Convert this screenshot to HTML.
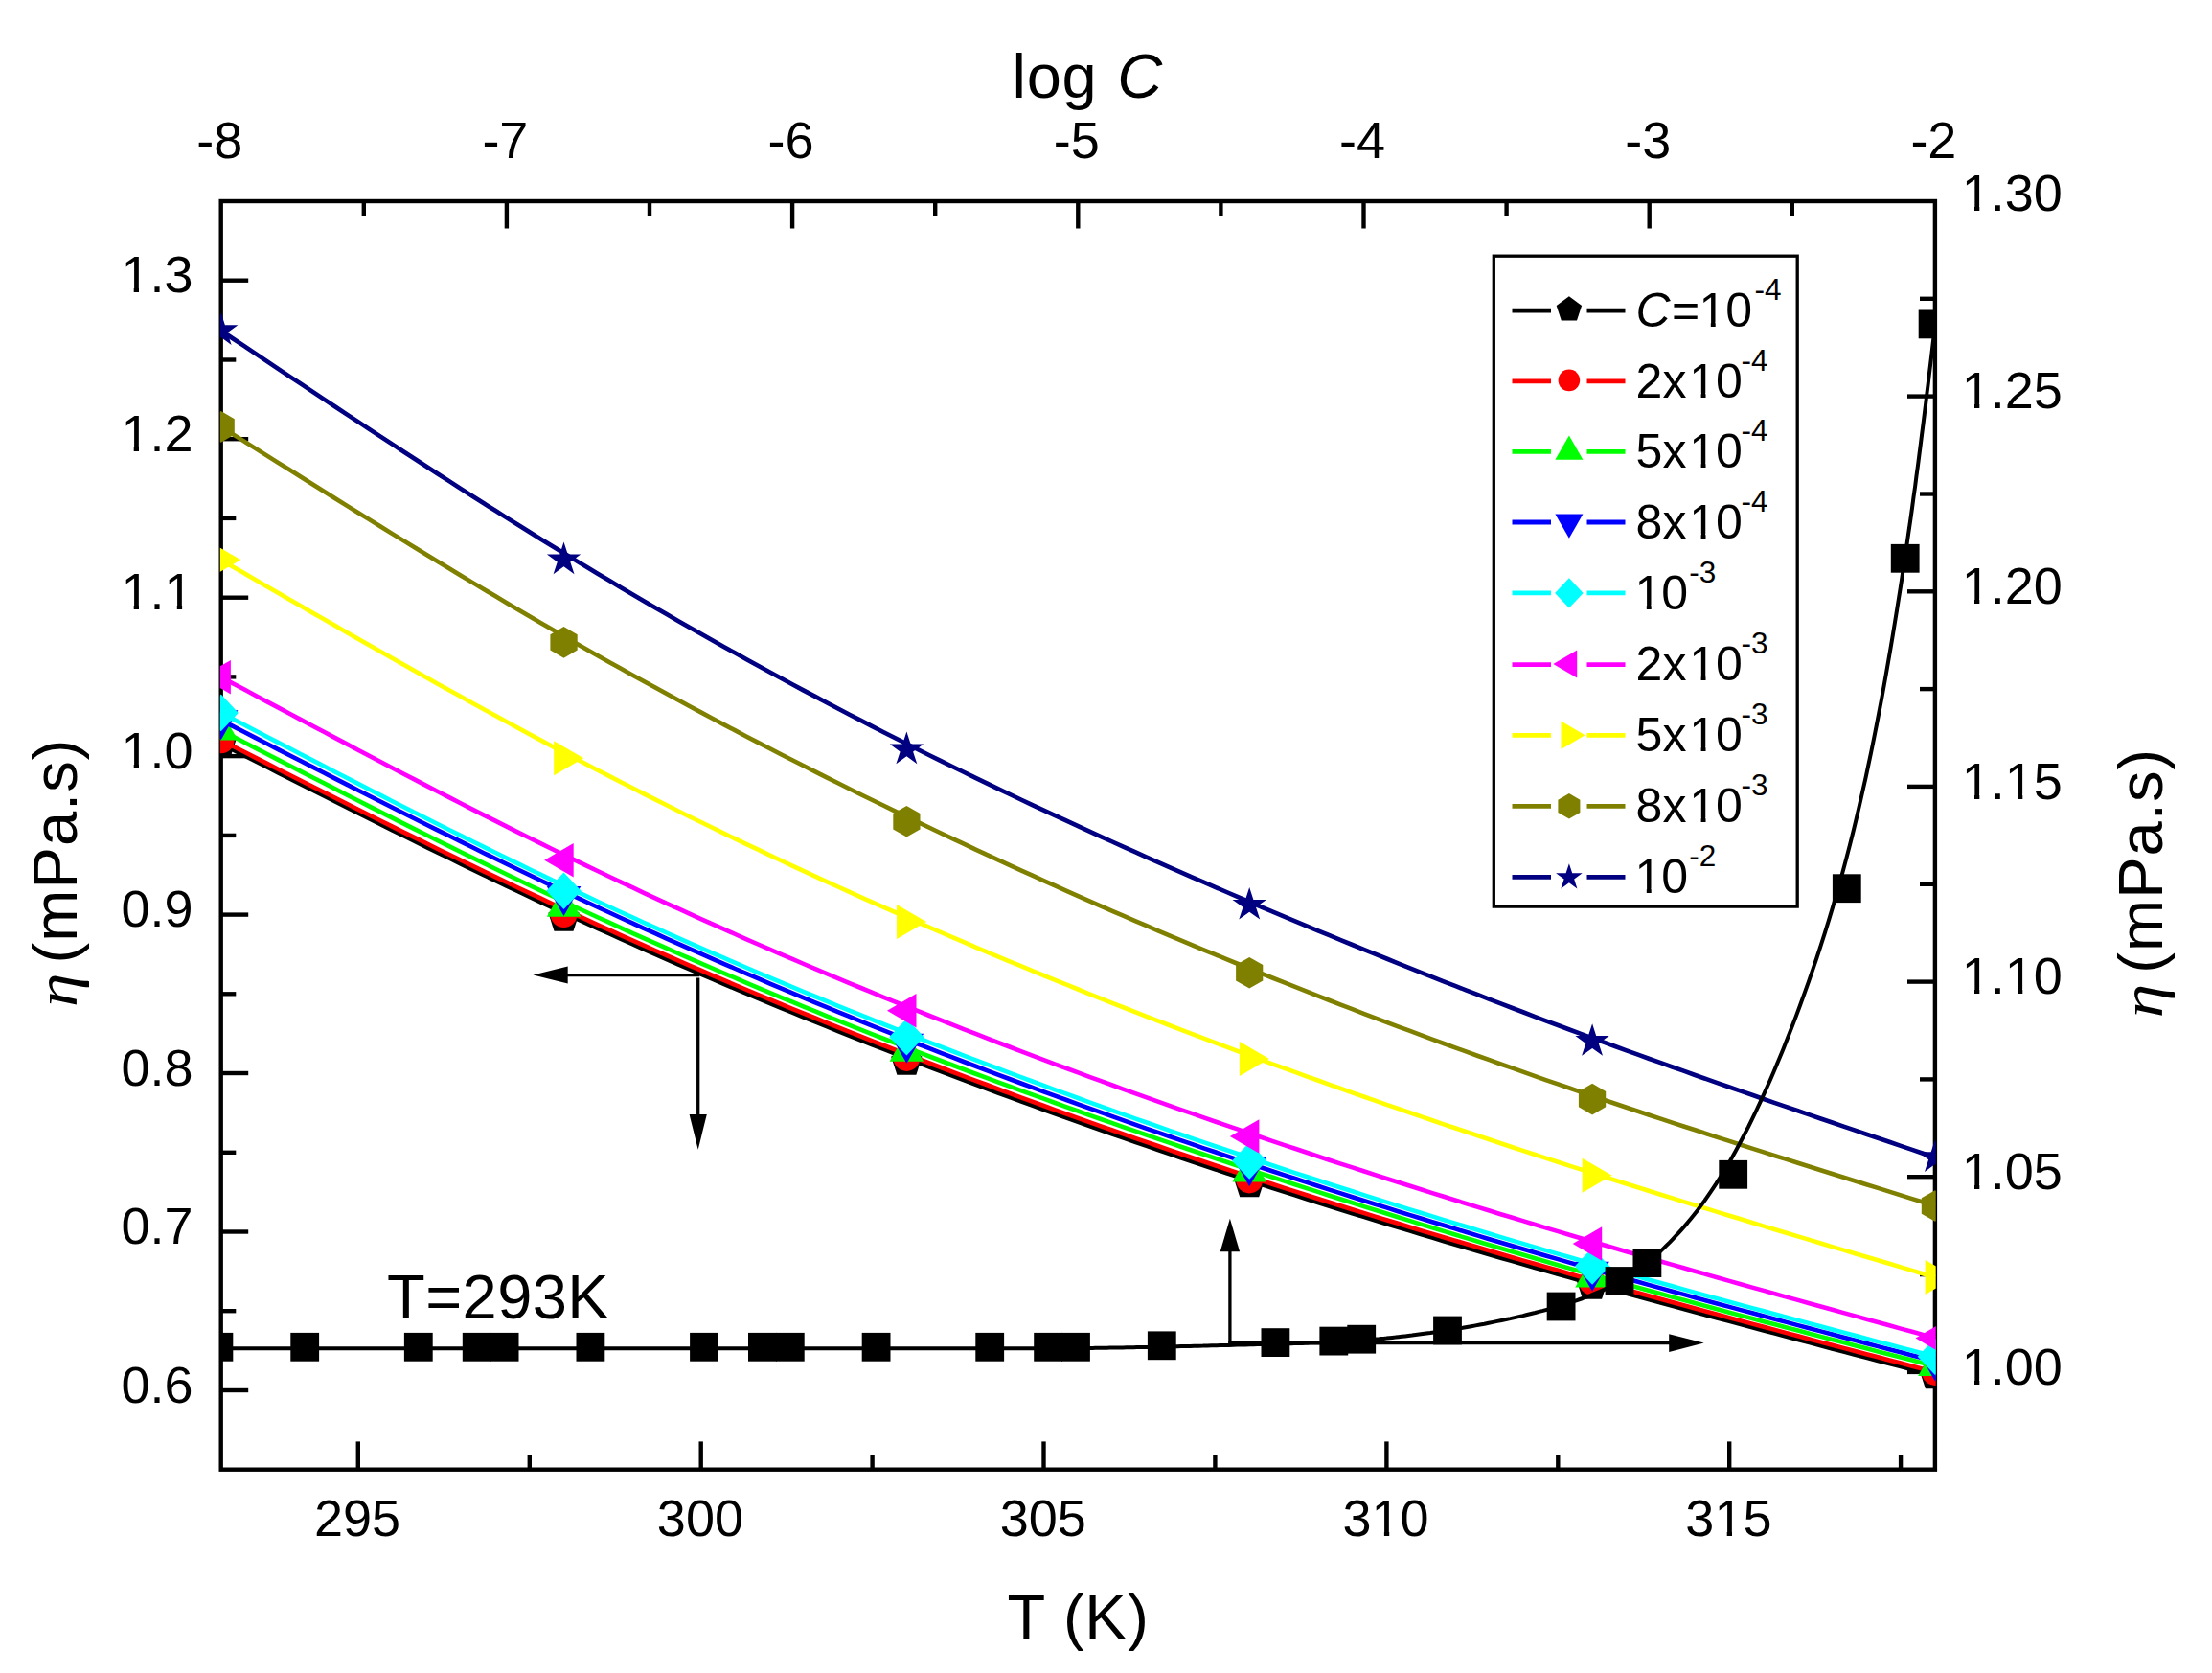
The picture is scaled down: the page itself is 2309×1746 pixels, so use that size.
<!DOCTYPE html>
<html lang="en"><head><meta charset="utf-8"><title>Viscosity vs temperature and concentration</title>
<style>html,body{margin:0;padding:0;background:#fff;}body{width:2309px;height:1746px;overflow:hidden;}svg{display:block;}text{font-family:"Liberation Sans", sans-serif;fill:#000;}</style></head><body>
<svg width="2309" height="1746" viewBox="0 0 2309 1746" role="img" aria-label="Viscosity versus temperature (bottom axis) and versus log concentration (top axis)">
<rect x="0" y="0" width="2309" height="1746" fill="#ffffff"/>
<defs><clipPath id="plotclip"><rect x="229.8" y="207.8" width="1790.9" height="1328.2"/></clipPath></defs>
<g stroke="#000" stroke-width="4.4" fill="none" stroke-linecap="butt">
<rect x="230.7" y="210" width="1789.2" height="1323.7"/>
<line x1="379.8" y1="210" x2="379.8" y2="225"/>
<line x1="528.9" y1="210" x2="528.9" y2="238.5"/>
<line x1="678" y1="210" x2="678" y2="225"/>
<line x1="827.1" y1="210" x2="827.1" y2="238.5"/>
<line x1="976.2" y1="210" x2="976.2" y2="225"/>
<line x1="1125.3" y1="210" x2="1125.3" y2="238.5"/>
<line x1="1274.4" y1="210" x2="1274.4" y2="225"/>
<line x1="1423.5" y1="210" x2="1423.5" y2="238.5"/>
<line x1="1572.6" y1="210" x2="1572.6" y2="225"/>
<line x1="1721.7" y1="210" x2="1721.7" y2="238.5"/>
<line x1="1870.8" y1="210" x2="1870.8" y2="225"/>
<line x1="373.8" y1="1533.7" x2="373.8" y2="1504.4"/>
<line x1="731.7" y1="1533.7" x2="731.7" y2="1504.4"/>
<line x1="1089.5" y1="1533.7" x2="1089.5" y2="1504.4"/>
<line x1="1447.4" y1="1533.7" x2="1447.4" y2="1504.4"/>
<line x1="1805.2" y1="1533.7" x2="1805.2" y2="1504.4"/>
<line x1="552.8" y1="1533.7" x2="552.8" y2="1518.7"/>
<line x1="910.6" y1="1533.7" x2="910.6" y2="1518.7"/>
<line x1="1268.4" y1="1533.7" x2="1268.4" y2="1518.7"/>
<line x1="1626.3" y1="1533.7" x2="1626.3" y2="1518.7"/>
<line x1="1984.1" y1="1533.7" x2="1984.1" y2="1518.7"/>
<line x1="230.7" y1="1451" x2="259.2" y2="1451"/>
<line x1="230.7" y1="1285.5" x2="259.2" y2="1285.5"/>
<line x1="230.7" y1="1120" x2="259.2" y2="1120"/>
<line x1="230.7" y1="954.6" x2="259.2" y2="954.6"/>
<line x1="230.7" y1="789.1" x2="259.2" y2="789.1"/>
<line x1="230.7" y1="623.7" x2="259.2" y2="623.7"/>
<line x1="230.7" y1="458.2" x2="259.2" y2="458.2"/>
<line x1="230.7" y1="292.7" x2="259.2" y2="292.7"/>
<line x1="230.7" y1="1368.2" x2="246.3" y2="1368.2"/>
<line x1="230.7" y1="1202.8" x2="246.3" y2="1202.8"/>
<line x1="230.7" y1="1037.3" x2="246.3" y2="1037.3"/>
<line x1="230.7" y1="871.9" x2="246.3" y2="871.9"/>
<line x1="230.7" y1="706.4" x2="246.3" y2="706.4"/>
<line x1="230.7" y1="540.9" x2="246.3" y2="540.9"/>
<line x1="230.7" y1="375.5" x2="246.3" y2="375.5"/>
<line x1="2019.9" y1="1431.9" x2="1991" y2="1431.9"/>
<line x1="2019.9" y1="1228.2" x2="1991" y2="1228.2"/>
<line x1="2019.9" y1="1024.6" x2="1991" y2="1024.6"/>
<line x1="2019.9" y1="820.9" x2="1991" y2="820.9"/>
<line x1="2019.9" y1="617.3" x2="1991" y2="617.3"/>
<line x1="2019.9" y1="413.6" x2="1991" y2="413.6"/>
<line x1="2019.9" y1="1330.1" x2="2004" y2="1330.1"/>
<line x1="2019.9" y1="1126.4" x2="2004" y2="1126.4"/>
<line x1="2019.9" y1="922.8" x2="2004" y2="922.8"/>
<line x1="2019.9" y1="719.1" x2="2004" y2="719.1"/>
<line x1="2019.9" y1="515.5" x2="2004" y2="515.5"/>
<line x1="2019.9" y1="311.8" x2="2004" y2="311.8"/>
</g>
<g clip-path="url(#plotclip)">
<polyline points="230.7,776.1 242.6,782.2 254.6,788.2 266.5,794.3 278.4,800.3 290.3,806.4 302.3,812.4 314.2,818.5 326.1,824.5 338.1,830.5 350,836.5 361.9,842.5 373.8,848.5 385.8,854.5 397.7,860.4 409.6,866.4 421.5,872.3 433.5,878.2 445.4,884.1 457.3,890 469.3,895.8 481.2,901.6 493.1,907.4 505,913.2 517,918.9 528.9,924.6 540.8,930.3 552.8,935.9 564.7,941.6 576.6,947.1 588.5,952.7 600.5,958.2 612.4,963.7 624.3,969.1 636.3,974.5 648.2,979.9 660.1,985.2 672,990.6 684,995.8 695.9,1001.1 707.8,1006.3 719.7,1011.5 731.7,1016.6 743.6,1021.7 755.5,1026.8 767.5,1031.9 779.4,1036.9 791.3,1041.9 803.2,1046.8 815.2,1051.8 827.1,1056.7 839,1061.6 851,1066.4 862.9,1071.2 874.8,1076 886.7,1080.8 898.7,1085.5 910.6,1090.3 922.5,1094.9 934.5,1099.6 946.4,1104.2 958.3,1108.9 970.2,1113.5 982.2,1118 994.1,1122.6 1006,1127.1 1017.9,1131.6 1029.9,1136 1041.8,1140.5 1053.7,1144.9 1065.7,1149.3 1077.6,1153.6 1089.5,1158 1101.4,1162.3 1113.4,1166.6 1125.3,1170.8 1137.2,1175.1 1149.2,1179.3 1161.1,1183.5 1173,1187.7 1184.9,1191.8 1196.9,1195.9 1208.8,1200 1220.7,1204.1 1232.7,1208.2 1244.6,1212.2 1256.5,1216.2 1268.4,1220.2 1280.4,1224.2 1292.3,1228.1 1304.2,1232 1316.1,1235.9 1328.1,1239.8 1340,1243.6 1351.9,1247.4 1363.9,1251.2 1375.8,1255 1387.7,1258.7 1399.6,1262.5 1411.6,1266.2 1423.5,1269.9 1435.4,1273.6 1447.4,1277.2 1459.3,1280.8 1471.2,1284.4 1483.1,1288 1495.1,1291.6 1507,1295.2 1518.9,1298.7 1530.9,1302.2 1542.8,1305.7 1554.7,1309.2 1566.6,1312.7 1578.6,1316.1 1590.5,1319.6 1602.4,1323 1614.3,1326.4 1626.3,1329.8 1638.2,1333.1 1650.1,1336.5 1662.1,1339.8 1674,1343.2 1685.9,1346.5 1697.8,1349.8 1709.8,1353.1 1721.7,1356.3 1733.6,1359.6 1745.6,1362.8 1757.5,1366.1 1769.4,1369.3 1781.3,1372.5 1793.3,1375.7 1805.2,1378.9 1817.1,1382.1 1829.1,1385.3 1841,1388.5 1852.9,1391.6 1864.8,1394.8 1876.8,1398 1888.7,1401.1 1900.6,1404.3 1912.5,1407.4 1924.5,1410.5 1936.4,1413.7 1948.3,1416.8 1960.3,1419.9 1972.2,1423 1984.1,1426.1 1996,1429.3 2008,1432.4 2019.9,1435.5" fill="none" stroke="#000000" stroke-width="4.6" stroke-linejoin="round"/>
<polygon points="230.7,759.1 246.9,770.8 240.7,789.9 220.7,789.9 214.5,770.8" fill="#000000"/>
<polygon points="588.5,941 604.7,952.7 598.5,971.8 578.5,971.8 572.4,952.7" fill="#000000"/>
<polygon points="946.4,1091 962.5,1102.7 956.4,1121.8 936.4,1121.8 930.2,1102.7" fill="#000000"/>
<polygon points="1304.2,1218.5 1320.4,1230.2 1314.2,1249.3 1294.2,1249.3 1288.1,1230.2" fill="#000000"/>
<polygon points="1662.1,1325 1678.2,1336.7 1672.1,1355.8 1652.1,1355.8 1645.9,1336.7" fill="#000000"/>
<polygon points="2019.9,1418.5 2036.1,1430.2 2029.9,1449.3 2009.9,1449.3 2003.7,1430.2" fill="#000000"/>
<polyline points="230.7,772.4 242.6,778.5 254.6,784.5 266.5,790.6 278.4,796.6 290.3,802.7 302.3,808.7 314.2,814.8 326.1,820.8 338.1,826.8 350,832.8 361.9,838.8 373.8,844.8 385.8,850.7 397.7,856.7 409.6,862.6 421.5,868.6 433.5,874.4 445.4,880.3 457.3,886.2 469.3,892 481.2,897.8 493.1,903.6 505,909.4 517,915.1 528.9,920.8 540.8,926.5 552.8,932.1 564.7,937.7 576.6,943.3 588.5,948.9 600.5,954.4 612.4,959.8 624.3,965.3 636.3,970.7 648.2,976.1 660.1,981.4 672,986.7 684,992 695.9,997.2 707.8,1002.4 719.7,1007.6 731.7,1012.7 743.6,1017.8 755.5,1022.9 767.5,1028 779.4,1033 791.3,1038 803.2,1042.9 815.2,1047.9 827.1,1052.8 839,1057.6 851,1062.5 862.9,1067.3 874.8,1072.1 886.7,1076.9 898.7,1081.6 910.6,1086.3 922.5,1091 934.5,1095.6 946.4,1100.3 958.3,1104.9 970.2,1109.5 982.2,1114 994.1,1118.6 1006,1123.1 1017.9,1127.6 1029.9,1132 1041.8,1136.5 1053.7,1140.9 1065.7,1145.3 1077.6,1149.6 1089.5,1154 1101.4,1158.3 1113.4,1162.6 1125.3,1166.8 1137.2,1171.1 1149.2,1175.3 1161.1,1179.5 1173,1183.7 1184.9,1187.8 1196.9,1191.9 1208.8,1196 1220.7,1200.1 1232.7,1204.2 1244.6,1208.2 1256.5,1212.2 1268.4,1216.2 1280.4,1220.2 1292.3,1224.1 1304.2,1228 1316.1,1231.9 1328.1,1235.8 1340,1239.6 1351.9,1243.4 1363.9,1247.2 1375.8,1251 1387.7,1254.7 1399.6,1258.5 1411.6,1262.2 1423.5,1265.9 1435.4,1269.6 1447.4,1273.2 1459.3,1276.8 1471.2,1280.5 1483.1,1284.1 1495.1,1287.6 1507,1291.2 1518.9,1294.7 1530.9,1298.2 1542.8,1301.8 1554.7,1305.2 1566.6,1308.7 1578.6,1312.2 1590.5,1315.6 1602.4,1319 1614.3,1322.4 1626.3,1325.8 1638.2,1329.2 1650.1,1332.6 1662.1,1335.9 1674,1339.3 1685.9,1342.6 1697.8,1345.9 1709.8,1349.2 1721.7,1352.5 1733.6,1355.7 1745.6,1359 1757.5,1362.2 1769.4,1365.5 1781.3,1368.7 1793.3,1371.9 1805.2,1375.2 1817.1,1378.4 1829.1,1381.6 1841,1384.7 1852.9,1387.9 1864.8,1391.1 1876.8,1394.3 1888.7,1397.4 1900.6,1400.6 1912.5,1403.7 1924.5,1406.9 1936.4,1410 1948.3,1413.2 1960.3,1416.3 1972.2,1419.5 1984.1,1422.6 1996,1425.7 2008,1428.9 2019.9,1432" fill="none" stroke="#ff0000" stroke-width="4.6" stroke-linejoin="round"/>
<circle cx="230.7" cy="772.4" r="13.9" fill="#ff0000"/>
<circle cx="588.5" cy="954.2" r="13.9" fill="#ff0000"/>
<circle cx="946.4" cy="1104" r="13.9" fill="#ff0000"/>
<circle cx="1304.2" cy="1231.5" r="13.9" fill="#ff0000"/>
<circle cx="1662.1" cy="1338" r="13.9" fill="#ff0000"/>
<circle cx="2019.9" cy="1432" r="13.9" fill="#ff0000"/>
<polyline points="230.7,762.2 242.6,768.3 254.6,774.5 266.5,780.6 278.4,786.7 290.3,792.9 302.3,799 314.2,805.1 326.1,811.2 338.1,817.3 350,823.4 361.9,829.5 373.8,835.5 385.8,841.6 397.7,847.6 409.6,853.6 421.5,859.6 433.5,865.6 445.4,871.5 457.3,877.5 469.3,883.4 481.2,889.2 493.1,895.1 505,900.9 517,906.7 528.9,912.5 540.8,918.2 552.8,924 564.7,929.6 576.6,935.3 588.5,940.9 600.5,946.5 612.4,952 624.3,957.5 636.3,962.9 648.2,968.4 660.1,973.8 672,979.1 684,984.4 695.9,989.7 707.8,995 719.7,1000.2 731.7,1005.4 743.6,1010.5 755.5,1015.6 767.5,1020.7 779.4,1025.8 791.3,1030.8 803.2,1035.8 815.2,1040.8 827.1,1045.7 839,1050.6 851,1055.4 862.9,1060.3 874.8,1065.1 886.7,1069.9 898.7,1074.6 910.6,1079.3 922.5,1084 934.5,1088.7 946.4,1093.3 958.3,1097.9 970.2,1102.5 982.2,1107 994.1,1111.5 1006,1116 1017.9,1120.5 1029.9,1124.9 1041.8,1129.3 1053.7,1133.7 1065.7,1138.1 1077.6,1142.4 1089.5,1146.7 1101.4,1151 1113.4,1155.3 1125.3,1159.5 1137.2,1163.8 1149.2,1168 1161.1,1172.1 1173,1176.3 1184.9,1180.4 1196.9,1184.5 1208.8,1188.6 1220.7,1192.7 1232.7,1196.8 1244.6,1200.8 1256.5,1204.8 1268.4,1208.8 1280.4,1212.8 1292.3,1216.7 1304.2,1220.7 1316.1,1224.6 1328.1,1228.5 1340,1232.4 1351.9,1236.2 1363.9,1240.1 1375.8,1243.9 1387.7,1247.7 1399.6,1251.5 1411.6,1255.3 1423.5,1259.1 1435.4,1262.8 1447.4,1266.5 1459.3,1270.3 1471.2,1273.9 1483.1,1277.6 1495.1,1281.3 1507,1284.9 1518.9,1288.5 1530.9,1292.1 1542.8,1295.7 1554.7,1299.2 1566.6,1302.8 1578.6,1306.3 1590.5,1309.8 1602.4,1313.3 1614.3,1316.7 1626.3,1320.2 1638.2,1323.6 1650.1,1327 1662.1,1330.4 1674,1333.7 1685.9,1337.1 1697.8,1340.4 1709.8,1343.7 1721.7,1347 1733.6,1350.3 1745.6,1353.6 1757.5,1356.8 1769.4,1360 1781.3,1363.3 1793.3,1366.5 1805.2,1369.7 1817.1,1372.9 1829.1,1376 1841,1379.2 1852.9,1382.3 1864.8,1385.5 1876.8,1388.6 1888.7,1391.7 1900.6,1394.9 1912.5,1398 1924.5,1401.1 1936.4,1404.2 1948.3,1407.3 1960.3,1410.4 1972.2,1413.5 1984.1,1416.5 1996,1419.6 2008,1422.7 2019.9,1425.8" fill="none" stroke="#00ff00" stroke-width="4.6" stroke-linejoin="round"/>
<polygon points="230.7,741.5 248.4,772.5 212.9,772.5" fill="#00ff00"/>
<polygon points="588.5,925.7 606.3,956.7 570.8,956.7" fill="#00ff00"/>
<polygon points="946.4,1076.8 964.1,1107.8 928.6,1107.8" fill="#00ff00"/>
<polygon points="1304.2,1202.6 1322,1233.6 1286.5,1233.6" fill="#00ff00"/>
<polygon points="1662.1,1312.6 1679.8,1343.6 1644.3,1343.6" fill="#00ff00"/>
<polygon points="2019.9,1405.1 2037.7,1436.1 2002.2,1436.1" fill="#00ff00"/>
<polyline points="230.7,751.5 242.6,757.6 254.6,763.8 266.5,769.9 278.4,776 290.3,782.1 302.3,788.2 314.2,794.3 326.1,800.4 338.1,806.5 350,812.6 361.9,818.6 373.8,824.7 385.8,830.7 397.7,836.8 409.6,842.8 421.5,848.8 433.5,854.7 445.4,860.7 457.3,866.6 469.3,872.5 481.2,878.4 493.1,884.3 505,890.2 517,896 528.9,901.8 540.8,907.5 552.8,913.3 564.7,919 576.6,924.6 588.5,930.3 600.5,935.9 612.4,941.5 624.3,947 636.3,952.5 648.2,958 660.1,963.4 672,968.8 684,974.2 695.9,979.6 707.8,984.9 719.7,990.2 731.7,995.4 743.6,1000.6 755.5,1005.8 767.5,1011 779.4,1016.1 791.3,1021.2 803.2,1026.3 815.2,1031.3 827.1,1036.3 839,1041.3 851,1046.3 862.9,1051.2 874.8,1056.1 886.7,1060.9 898.7,1065.8 910.6,1070.6 922.5,1075.3 934.5,1080.1 946.4,1084.8 958.3,1089.5 970.2,1094.2 982.2,1098.8 994.1,1103.4 1006,1108 1017.9,1112.5 1029.9,1117.1 1041.8,1121.6 1053.7,1126 1065.7,1130.5 1077.6,1134.9 1089.5,1139.3 1101.4,1143.7 1113.4,1148 1125.3,1152.3 1137.2,1156.6 1149.2,1160.9 1161.1,1165.1 1173,1169.4 1184.9,1173.6 1196.9,1177.8 1208.8,1181.9 1220.7,1186 1232.7,1190.1 1244.6,1194.2 1256.5,1198.3 1268.4,1202.3 1280.4,1206.4 1292.3,1210.4 1304.2,1214.3 1316.1,1218.3 1328.1,1222.2 1340,1226.1 1351.9,1230 1363.9,1233.9 1375.8,1237.8 1387.7,1241.6 1399.6,1245.4 1411.6,1249.2 1423.5,1253 1435.4,1256.7 1447.4,1260.4 1459.3,1264.2 1471.2,1267.9 1483.1,1271.5 1495.1,1275.2 1507,1278.8 1518.9,1282.4 1530.9,1286 1542.8,1289.6 1554.7,1293.2 1566.6,1296.7 1578.6,1300.2 1590.5,1303.7 1602.4,1307.2 1614.3,1310.7 1626.3,1314.1 1638.2,1317.6 1650.1,1321 1662.1,1324.4 1674,1327.7 1685.9,1331.1 1697.8,1334.5 1709.8,1337.8 1721.7,1341.1 1733.6,1344.4 1745.6,1347.7 1757.5,1350.9 1769.4,1354.2 1781.3,1357.5 1793.3,1360.7 1805.2,1363.9 1817.1,1367.1 1829.1,1370.3 1841,1373.5 1852.9,1376.7 1864.8,1379.9 1876.8,1383.1 1888.7,1386.2 1900.6,1389.4 1912.5,1392.5 1924.5,1395.7 1936.4,1398.8 1948.3,1401.9 1960.3,1405.1 1972.2,1408.2 1984.1,1411.3 1996,1414.5 2008,1417.6 2019.9,1420.7" fill="none" stroke="#0000ff" stroke-width="4.6" stroke-linejoin="round"/>
<polygon points="230.7,772.2 248.4,741.2 212.9,741.2" fill="#0000ff"/>
<polygon points="588.5,956 606.3,925 570.8,925" fill="#0000ff"/>
<polygon points="946.4,1109.7 964.1,1078.7 928.6,1078.7" fill="#0000ff"/>
<polygon points="1304.2,1238.2 1322,1207.2 1286.5,1207.2" fill="#0000ff"/>
<polygon points="1662.1,1347.7 1679.8,1316.7 1644.3,1316.7" fill="#0000ff"/>
<polygon points="2019.9,1441.4 2037.7,1410.4 2002.2,1410.4" fill="#0000ff"/>
<polyline points="230.7,743.9 242.6,750.1 254.6,756.3 266.5,762.5 278.4,768.7 290.3,774.9 302.3,781 314.2,787.2 326.1,793.4 338.1,799.5 350,805.7 361.9,811.8 373.8,817.9 385.8,824 397.7,830.1 409.6,836.2 421.5,842.2 433.5,848.2 445.4,854.2 457.3,860.2 469.3,866.2 481.2,872.1 493.1,878 505,883.9 517,889.8 528.9,895.6 540.8,901.4 552.8,907.2 564.7,912.9 576.6,918.6 588.5,924.2 600.5,929.9 612.4,935.4 624.3,941 636.3,946.5 648.2,952 660.1,957.4 672,962.8 684,968.2 695.9,973.5 707.8,978.8 719.7,984.1 731.7,989.3 743.6,994.6 755.5,999.7 767.5,1004.9 779.4,1010 791.3,1015.1 803.2,1020.1 815.2,1025.1 827.1,1030.1 839,1035.1 851,1040 862.9,1044.9 874.8,1049.8 886.7,1054.6 898.7,1059.4 910.6,1064.2 922.5,1069 934.5,1073.7 946.4,1078.4 958.3,1083.1 970.2,1087.8 982.2,1092.4 994.1,1097 1006,1101.6 1017.9,1106.1 1029.9,1110.7 1041.8,1115.2 1053.7,1119.6 1065.7,1124.1 1077.6,1128.5 1089.5,1132.9 1101.4,1137.3 1113.4,1141.7 1125.3,1146 1137.2,1150.3 1149.2,1154.6 1161.1,1158.9 1173,1163.1 1184.9,1167.3 1196.9,1171.5 1208.8,1175.7 1220.7,1179.9 1232.7,1184 1244.6,1188.1 1256.5,1192.2 1268.4,1196.2 1280.4,1200.3 1292.3,1204.3 1304.2,1208.3 1316.1,1212.3 1328.1,1216.2 1340,1220.2 1351.9,1224.1 1363.9,1228 1375.8,1231.8 1387.7,1235.7 1399.6,1239.5 1411.6,1243.3 1423.5,1247.1 1435.4,1250.9 1447.4,1254.6 1459.3,1258.4 1471.2,1262.1 1483.1,1265.8 1495.1,1269.4 1507,1273.1 1518.9,1276.7 1530.9,1280.3 1542.8,1283.9 1554.7,1287.5 1566.6,1291.1 1578.6,1294.6 1590.5,1298.1 1602.4,1301.6 1614.3,1305.1 1626.3,1308.6 1638.2,1312 1650.1,1315.5 1662.1,1318.9 1674,1322.3 1685.9,1325.7 1697.8,1329 1709.8,1332.4 1721.7,1335.7 1733.6,1339 1745.6,1342.3 1757.5,1345.6 1769.4,1348.9 1781.3,1352.2 1793.3,1355.4 1805.2,1358.7 1817.1,1361.9 1829.1,1365.1 1841,1368.3 1852.9,1371.5 1864.8,1374.7 1876.8,1377.9 1888.7,1381.1 1900.6,1384.3 1912.5,1387.4 1924.5,1390.6 1936.4,1393.8 1948.3,1396.9 1960.3,1400.1 1972.2,1403.2 1984.1,1406.4 1996,1409.5 2008,1412.7 2019.9,1415.8" fill="none" stroke="#00ffff" stroke-width="4.6" stroke-linejoin="round"/>
<polygon points="230.7,724.6 248.9,743.9 230.7,763.2 212.5,743.9" fill="#00ffff"/>
<polygon points="588.5,910.5 606.7,929.8 588.5,949.1 570.3,929.8" fill="#00ffff"/>
<polygon points="946.4,1063 964.6,1082.3 946.4,1101.6 928.2,1082.3" fill="#00ffff"/>
<polygon points="1304.2,1192.2 1322.4,1211.5 1304.2,1230.8 1286,1211.5" fill="#00ffff"/>
<polygon points="1662.1,1302.2 1680.3,1321.5 1662.1,1340.8 1643.9,1321.5" fill="#00ffff"/>
<polygon points="2019.9,1396.5 2038.1,1415.8 2019.9,1435.1 2001.7,1415.8" fill="#00ffff"/>
<polyline points="230.7,706.6 242.6,713 254.6,719.3 266.5,725.7 278.4,732.1 290.3,738.4 302.3,744.8 314.2,751.1 326.1,757.5 338.1,763.8 350,770.1 361.9,776.4 373.8,782.7 385.8,789 397.7,795.2 409.6,801.5 421.5,807.7 433.5,813.9 445.4,820.1 457.3,826.2 469.3,832.4 481.2,838.5 493.1,844.6 505,850.6 517,856.6 528.9,862.6 540.8,868.6 552.8,874.5 564.7,880.4 576.6,886.3 588.5,892.1 600.5,897.9 612.4,903.6 624.3,909.3 636.3,915 648.2,920.6 660.1,926.2 672,931.8 684,937.3 695.9,942.8 707.8,948.2 719.7,953.7 731.7,959.1 743.6,964.4 755.5,969.7 767.5,975 779.4,980.3 791.3,985.5 803.2,990.7 815.2,995.8 827.1,1000.9 839,1006 851,1011.1 862.9,1016.1 874.8,1021.1 886.7,1026.1 898.7,1031 910.6,1035.9 922.5,1040.8 934.5,1045.6 946.4,1050.4 958.3,1055.2 970.2,1060 982.2,1064.7 994.1,1069.4 1006,1074.1 1017.9,1078.7 1029.9,1083.4 1041.8,1088 1053.7,1092.5 1065.7,1097.1 1077.6,1101.6 1089.5,1106.1 1101.4,1110.6 1113.4,1115 1125.3,1119.4 1137.2,1123.8 1149.2,1128.2 1161.1,1132.5 1173,1136.8 1184.9,1141.1 1196.9,1145.4 1208.8,1149.6 1220.7,1153.9 1232.7,1158.1 1244.6,1162.2 1256.5,1166.4 1268.4,1170.5 1280.4,1174.6 1292.3,1178.7 1304.2,1182.8 1316.1,1186.8 1328.1,1190.9 1340,1194.9 1351.9,1198.8 1363.9,1202.8 1375.8,1206.7 1387.7,1210.7 1399.6,1214.6 1411.6,1218.4 1423.5,1222.3 1435.4,1226.1 1447.4,1230 1459.3,1233.8 1471.2,1237.5 1483.1,1241.3 1495.1,1245.1 1507,1248.8 1518.9,1252.5 1530.9,1256.2 1542.8,1259.9 1554.7,1263.5 1566.6,1267.2 1578.6,1270.8 1590.5,1274.4 1602.4,1278 1614.3,1281.6 1626.3,1285.1 1638.2,1288.7 1650.1,1292.2 1662.1,1295.7 1674,1299.2 1685.9,1302.7 1697.8,1306.2 1709.8,1309.6 1721.7,1313.1 1733.6,1316.5 1745.6,1319.9 1757.5,1323.3 1769.4,1326.7 1781.3,1330.1 1793.3,1333.5 1805.2,1336.9 1817.1,1340.2 1829.1,1343.6 1841,1346.9 1852.9,1350.2 1864.8,1353.6 1876.8,1356.9 1888.7,1360.2 1900.6,1363.5 1912.5,1366.8 1924.5,1370.1 1936.4,1373.4 1948.3,1376.7 1960.3,1380 1972.2,1383.3 1984.1,1386.6 1996,1389.8 2008,1393.1 2019.9,1396.4" fill="none" stroke="#ff00ff" stroke-width="4.6" stroke-linejoin="round"/>
<polygon points="210.4,706.6 240.9,688.9 240.9,724.4" fill="#ff00ff"/>
<polygon points="568.2,897.8 598.7,880 598.7,915.5" fill="#ff00ff"/>
<polygon points="926,1054.7 956.5,1037 956.5,1072.5" fill="#ff00ff"/>
<polygon points="1283.9,1186 1314.4,1168.2 1314.4,1203.8" fill="#ff00ff"/>
<polygon points="1641.7,1298 1672.2,1280.2 1672.2,1315.8" fill="#ff00ff"/>
<polygon points="1999.6,1396.4 2030.1,1378.7 2030.1,1414.2" fill="#ff00ff"/>
<polyline points="230.7,584.3 242.6,591.2 254.6,598.1 266.5,605 278.4,611.9 290.3,618.8 302.3,625.7 314.2,632.5 326.1,639.4 338.1,646.2 350,653.1 361.9,659.9 373.8,666.7 385.8,673.5 397.7,680.3 409.6,687 421.5,693.8 433.5,700.5 445.4,707.2 457.3,713.9 469.3,720.5 481.2,727.1 493.1,733.7 505,740.3 517,746.8 528.9,753.3 540.8,759.8 552.8,766.2 564.7,772.6 576.6,779 588.5,785.3 600.5,791.5 612.4,797.8 624.3,804 636.3,810.1 648.2,816.3 660.1,822.3 672,828.4 684,834.4 695.9,840.3 707.8,846.3 719.7,852.2 731.7,858 743.6,863.8 755.5,869.6 767.5,875.4 779.4,881.1 791.3,886.7 803.2,892.4 815.2,898 827.1,903.6 839,909.1 851,914.6 862.9,920.1 874.8,925.5 886.7,930.9 898.7,936.3 910.6,941.6 922.5,946.9 934.5,952.2 946.4,957.4 958.3,962.7 970.2,967.8 982.2,973 994.1,978.1 1006,983.2 1017.9,988.3 1029.9,993.3 1041.8,998.3 1053.7,1003.3 1065.7,1008.2 1077.6,1013.1 1089.5,1018 1101.4,1022.9 1113.4,1027.7 1125.3,1032.5 1137.2,1037.3 1149.2,1042.1 1161.1,1046.8 1173,1051.5 1184.9,1056.2 1196.9,1060.8 1208.8,1065.4 1220.7,1070 1232.7,1074.6 1244.6,1079.1 1256.5,1083.6 1268.4,1088.1 1280.4,1092.6 1292.3,1097.1 1304.2,1101.5 1316.1,1105.9 1328.1,1110.3 1340,1114.6 1351.9,1118.9 1363.9,1123.3 1375.8,1127.5 1387.7,1131.8 1399.6,1136 1411.6,1140.3 1423.5,1144.5 1435.4,1148.6 1447.4,1152.8 1459.3,1156.9 1471.2,1161 1483.1,1165.1 1495.1,1169.2 1507,1173.3 1518.9,1177.3 1530.9,1181.3 1542.8,1185.3 1554.7,1189.3 1566.6,1193.2 1578.6,1197.2 1590.5,1201.1 1602.4,1205 1614.3,1208.9 1626.3,1212.7 1638.2,1216.6 1650.1,1220.4 1662.1,1224.2 1674,1228 1685.9,1231.8 1697.8,1235.5 1709.8,1239.3 1721.7,1243 1733.6,1246.7 1745.6,1250.4 1757.5,1254.1 1769.4,1257.8 1781.3,1261.4 1793.3,1265.1 1805.2,1268.7 1817.1,1272.3 1829.1,1276 1841,1279.6 1852.9,1283.2 1864.8,1286.8 1876.8,1290.4 1888.7,1293.9 1900.6,1297.5 1912.5,1301.1 1924.5,1304.6 1936.4,1308.2 1948.3,1311.7 1960.3,1315.3 1972.2,1318.8 1984.1,1322.4 1996,1325.9 2008,1329.5 2019.9,1333" fill="none" stroke="#ffff00" stroke-width="4.6" stroke-linejoin="round"/>
<polygon points="251.4,584.3 220.4,566.3 220.4,602.3" fill="#ffff00"/>
<polygon points="609.2,791.3 578.2,773.3 578.2,809.3" fill="#ffff00"/>
<polygon points="967,962.1 936,944.1 936,980.1" fill="#ffff00"/>
<polygon points="1324.9,1105 1293.9,1087 1293.9,1123" fill="#ffff00"/>
<polygon points="1682.7,1226.8 1651.7,1208.8 1651.7,1244.8" fill="#ffff00"/>
<polygon points="2040.6,1333 2009.6,1315 2009.6,1351" fill="#ffff00"/>
<polyline points="230.7,445.4 242.6,452.9 254.6,460.4 266.5,467.9 278.4,475.4 290.3,482.9 302.3,490.3 314.2,497.8 326.1,505.3 338.1,512.7 350,520.2 361.9,527.6 373.8,535 385.8,542.4 397.7,549.8 409.6,557.1 421.5,564.4 433.5,571.7 445.4,579 457.3,586.3 469.3,593.5 481.2,600.7 493.1,607.9 505,615 517,622.1 528.9,629.2 540.8,636.3 552.8,643.3 564.7,650.2 576.6,657.1 588.5,664 600.5,670.9 612.4,677.7 624.3,684.4 636.3,691.2 648.2,697.8 660.1,704.5 672,711.1 684,717.6 695.9,724.1 707.8,730.6 719.7,737 731.7,743.4 743.6,749.8 755.5,756.1 767.5,762.4 779.4,768.7 791.3,774.9 803.2,781 815.2,787.2 827.1,793.3 839,799.3 851,805.4 862.9,811.4 874.8,817.3 886.7,823.3 898.7,829.2 910.6,835 922.5,840.8 934.5,846.6 946.4,852.4 958.3,858.1 970.2,863.8 982.2,869.5 994.1,875.1 1006,880.7 1017.9,886.3 1029.9,891.8 1041.8,897.4 1053.7,902.8 1065.7,908.3 1077.6,913.7 1089.5,919.1 1101.4,924.4 1113.4,929.8 1125.3,935.1 1137.2,940.3 1149.2,945.6 1161.1,950.8 1173,955.9 1184.9,961.1 1196.9,966.2 1208.8,971.3 1220.7,976.3 1232.7,981.3 1244.6,986.3 1256.5,991.3 1268.4,996.2 1280.4,1001.1 1292.3,1006 1304.2,1010.8 1316.1,1015.7 1328.1,1020.5 1340,1025.2 1351.9,1029.9 1363.9,1034.7 1375.8,1039.3 1387.7,1044 1399.6,1048.6 1411.6,1053.2 1423.5,1057.8 1435.4,1062.3 1447.4,1066.8 1459.3,1071.3 1471.2,1075.7 1483.1,1080.2 1495.1,1084.6 1507,1089 1518.9,1093.3 1530.9,1097.7 1542.8,1102 1554.7,1106.2 1566.6,1110.5 1578.6,1114.7 1590.5,1118.9 1602.4,1123.1 1614.3,1127.3 1626.3,1131.4 1638.2,1135.5 1650.1,1139.6 1662.1,1143.7 1674,1147.7 1685.9,1151.7 1697.8,1155.7 1709.8,1159.7 1721.7,1163.7 1733.6,1167.6 1745.6,1171.6 1757.5,1175.5 1769.4,1179.3 1781.3,1183.2 1793.3,1187.1 1805.2,1190.9 1817.1,1194.8 1829.1,1198.6 1841,1202.4 1852.9,1206.2 1864.8,1209.9 1876.8,1213.7 1888.7,1217.5 1900.6,1221.2 1912.5,1225 1924.5,1228.7 1936.4,1232.5 1948.3,1236.2 1960.3,1239.9 1972.2,1243.6 1984.1,1247.4 1996,1251.1 2008,1254.8 2019.9,1258.5" fill="none" stroke="#808000" stroke-width="4.6" stroke-linejoin="round"/>
<polygon points="230.7,429.1 244.8,437.2 244.8,453.5 230.7,461.7 216.6,453.6 216.6,437.2" fill="#808000"/>
<polygon points="588.5,654.1 602.7,662.2 602.7,678.5 588.5,686.7 574.4,678.5 574.4,662.2" fill="#808000"/>
<polygon points="946.4,840.9 960.5,849.1 960.5,865.4 946.4,873.5 932.3,865.4 932.3,849.1" fill="#808000"/>
<polygon points="1304.2,998.9 1318.3,1007.1 1318.3,1023.4 1304.2,1031.5 1290.1,1023.4 1290.1,1007.1" fill="#808000"/>
<polygon points="1662.1,1130.8 1676.2,1138.9 1676.2,1155.2 1662.1,1163.4 1647.9,1155.2 1647.9,1138.9" fill="#808000"/>
<polygon points="2019.9,1242.2 2034,1250.3 2034,1266.7 2019.9,1274.8 2005.8,1266.7 2005.8,1250.3" fill="#808000"/>
<polyline points="230.7,345 242.6,353 254.6,360.9 266.5,368.9 278.4,376.9 290.3,384.8 302.3,392.8 314.2,400.7 326.1,408.7 338.1,416.6 350,424.5 361.9,432.4 373.8,440.2 385.8,448.1 397.7,455.9 409.6,463.7 421.5,471.5 433.5,479.3 445.4,487 457.3,494.7 469.3,502.4 481.2,510.1 493.1,517.7 505,525.3 517,532.8 528.9,540.4 540.8,547.8 552.8,555.3 564.7,562.7 576.6,570 588.5,577.3 600.5,584.6 612.4,591.8 624.3,599 636.3,606.1 648.2,613.2 660.1,620.2 672,627.2 684,634.2 695.9,641.1 707.8,647.9 719.7,654.8 731.7,661.5 743.6,668.3 755.5,675 767.5,681.6 779.4,688.2 791.3,694.8 803.2,701.3 815.2,707.8 827.1,714.2 839,720.6 851,726.9 862.9,733.2 874.8,739.5 886.7,745.7 898.7,751.9 910.6,758.1 922.5,764.2 934.5,770.2 946.4,776.3 958.3,782.3 970.2,788.2 982.2,794.1 994.1,800 1006,805.8 1017.9,811.6 1029.9,817.4 1041.8,823.1 1053.7,828.8 1065.7,834.5 1077.6,840.1 1089.5,845.7 1101.4,851.2 1113.4,856.7 1125.3,862.2 1137.2,867.7 1149.2,873.1 1161.1,878.5 1173,883.9 1184.9,889.2 1196.9,894.6 1208.8,899.9 1220.7,905.1 1232.7,910.3 1244.6,915.6 1256.5,920.7 1268.4,925.9 1280.4,931 1292.3,936.1 1304.2,941.2 1316.1,946.3 1328.1,951.3 1340,956.4 1351.9,961.4 1363.9,966.3 1375.8,971.3 1387.7,976.2 1399.6,981.1 1411.6,986 1423.5,990.9 1435.4,995.7 1447.4,1000.5 1459.3,1005.3 1471.2,1010.1 1483.1,1014.8 1495.1,1019.6 1507,1024.3 1518.9,1028.9 1530.9,1033.6 1542.8,1038.2 1554.7,1042.8 1566.6,1047.4 1578.6,1052 1590.5,1056.5 1602.4,1061.1 1614.3,1065.6 1626.3,1070 1638.2,1074.5 1650.1,1078.9 1662.1,1083.3 1674,1087.7 1685.9,1092 1697.8,1096.4 1709.8,1100.7 1721.7,1105 1733.6,1109.2 1745.6,1113.5 1757.5,1117.7 1769.4,1122 1781.3,1126.2 1793.3,1130.4 1805.2,1134.5 1817.1,1138.7 1829.1,1142.8 1841,1147 1852.9,1151.1 1864.8,1155.2 1876.8,1159.3 1888.7,1163.4 1900.6,1167.5 1912.5,1171.5 1924.5,1175.6 1936.4,1179.7 1948.3,1183.7 1960.3,1187.8 1972.2,1191.8 1984.1,1195.9 1996,1199.9 2008,1204 2019.9,1208" fill="none" stroke="#000080" stroke-width="4.6" stroke-linejoin="round"/>
<polygon points="230.7,326.4 234.9,339.3 248.4,339.3 237.5,347.2 241.6,360 230.7,352.1 219.8,360 223.9,347.2 213,339.3 226.5,339.3" fill="#000080"/>
<polygon points="588.5,565.6 592.7,578.5 606.2,578.5 595.3,586.4 599.5,599.2 588.5,591.3 577.6,599.2 581.8,586.4 570.9,578.5 584.4,578.5" fill="#000080"/>
<polygon points="946.4,763.6 950.6,776.5 964.1,776.5 953.1,784.4 957.3,797.2 946.4,789.3 935.4,797.2 939.6,784.4 928.7,776.5 942.2,776.5" fill="#000080"/>
<polygon points="1304.2,926 1308.4,938.9 1321.9,938.9 1311,946.8 1315.2,959.6 1304.2,951.7 1293.3,959.6 1297.5,946.8 1286.5,938.9 1300,938.9" fill="#000080"/>
<polygon points="1662.1,1068.2 1666.2,1081.1 1679.7,1081.1 1668.8,1089 1673,1101.8 1662.1,1093.9 1651.1,1101.8 1655.3,1089 1644.4,1081.1 1657.9,1081.1" fill="#000080"/>
<polygon points="2019.9,1189.4 2024.1,1202.3 2037.6,1202.3 2026.7,1210.2 2030.8,1223 2019.9,1215.1 2009,1223 2013.1,1210.2 2002.2,1202.3 2015.7,1202.3" fill="#000080"/>
<polyline points="230.7,1407.2 234.4,1407.2 238.2,1407.2 241.9,1407.2 245.7,1407.2 249.4,1407.2 253.2,1407.2 257,1407.2 260.8,1407.2 264.6,1407.2 268.5,1407.2 272.3,1407.2 276.2,1407.2 280.1,1407.2 284,1407.2 288,1407.2 292,1407.2 296,1407.2 300.1,1407.2 304.2,1407.2 308.3,1407.2 312.5,1407.2 316.7,1407.2 321,1407.2 325.3,1407.2 329.6,1407.2 334.1,1407.2 338.5,1407.2 343,1407.2 347.5,1407.2 352,1407.2 356.6,1407.2 361.1,1407.2 365.6,1407.2 370.2,1407.2 374.7,1407.2 379.2,1407.2 383.7,1407.2 388.1,1407.2 392.5,1407.2 396.9,1407.2 401.2,1407.2 405.5,1407.2 409.7,1407.2 413.8,1407.2 417.9,1407.2 421.8,1407.2 425.7,1407.2 429.5,1407.2 433.2,1407.2 436.8,1407.2 440.3,1407.2 443.7,1407.2 447,1407.2 450.2,1407.2 453.3,1407.2 456.4,1407.2 459.3,1407.2 462.2,1407.2 465,1407.2 467.7,1407.2 470.3,1407.2 472.9,1407.2 475.4,1407.2 477.8,1407.2 480.1,1407.2 482.4,1407.2 484.6,1407.2 486.7,1407.2 488.8,1407.2 490.8,1407.2 492.8,1407.2 494.7,1407.2 496.5,1407.2 498.3,1407.2 500.1,1407.2 501.8,1407.2 503.5,1407.2 505.1,1407.2 506.8,1407.2 508.4,1407.2 510.1,1407.2 511.7,1407.2 513.4,1407.2 515.1,1407.2 516.8,1407.2 518.5,1407.2 520.3,1407.2 522.1,1407.2 523.9,1407.2 525.9,1407.2 527.9,1407.2 529.9,1407.2 532.1,1407.2 534.3,1407.2 536.6,1407.2 539,1407.2 541.6,1407.2 544.2,1407.2 546.9,1407.2 549.8,1407.2 552.7,1407.2 555.7,1407.2 558.8,1407.2 562,1407.2 565.3,1407.2 568.7,1407.2 572.1,1407.2 575.7,1407.2 579.3,1407.2 583,1407.2 586.7,1407.2 590.5,1407.2 594.4,1407.2 598.4,1407.2 602.4,1407.2 606.5,1407.2 610.7,1407.2 614.9,1407.2 619.2,1407.2 623.5,1407.2 627.8,1407.2 632.3,1407.2 636.7,1407.2 641.2,1407.2 645.7,1407.2 650.2,1407.2 654.8,1407.2 659.3,1407.2 663.8,1407.2 668.4,1407.2 672.9,1407.2 677.4,1407.2 681.9,1407.2 686.3,1407.2 690.7,1407.2 695.1,1407.2 699.4,1407.2 703.7,1407.2 707.9,1407.2 712,1407.2 716.1,1407.2 720,1407.2 723.9,1407.2 727.7,1407.2 731.4,1407.2 735,1407.2 738.5,1407.2 741.9,1407.2 745.2,1407.2 748.4,1407.2 751.5,1407.2 754.6,1407.2 757.5,1407.2 760.4,1407.2 763.2,1407.2 765.9,1407.2 768.5,1407.2 771.1,1407.2 773.6,1407.2 776,1407.2 778.3,1407.2 780.6,1407.2 782.8,1407.2 784.9,1407.2 787,1407.2 789,1407.2 791,1407.2 792.9,1407.2 794.7,1407.2 796.5,1407.2 798.3,1407.2 800,1407.2 801.7,1407.2 803.3,1407.2 805,1407.2 806.6,1407.2 808.3,1407.2 809.9,1407.2 811.6,1407.2 813.3,1407.2 815,1407.2 816.7,1407.2 818.5,1407.2 820.3,1407.2 822.1,1407.2 824.1,1407.2 826.1,1407.2 828.1,1407.2 830.3,1407.2 832.5,1407.2 834.8,1407.2 837.2,1407.2 839.8,1407.2 842.4,1407.2 845.1,1407.2 848,1407.2 850.9,1407.2 853.9,1407.2 857,1407.2 860.2,1407.2 863.5,1407.2 866.9,1407.2 870.3,1407.2 873.9,1407.2 877.5,1407.2 881.2,1407.2 884.9,1407.2 888.7,1407.2 892.6,1407.2 896.6,1407.2 900.6,1407.2 904.7,1407.2 908.9,1407.2 913.1,1407.2 917.4,1407.2 921.7,1407.2 926,1407.2 930.5,1407.2 934.9,1407.2 939.4,1407.2 943.9,1407.2 948.4,1407.2 953,1407.2 957.5,1407.2 962,1407.2 966.6,1407.2 971.1,1407.2 975.6,1407.2 980.1,1407.2 984.5,1407.2 988.9,1407.2 993.3,1407.2 997.6,1407.2 1001.9,1407.2 1006.1,1407.2 1010.2,1407.2 1014.3,1407.2 1018.2,1407.2 1022.1,1407.2 1025.9,1407.2 1029.6,1407.2 1033.2,1407.2 1036.7,1407.2 1040.1,1407.2 1043.4,1407.2 1046.6,1407.2 1049.7,1407.2 1052.8,1407.2 1055.7,1407.2 1058.6,1407.2 1061.4,1407.2 1064.1,1407.2 1066.7,1407.2 1069.3,1407.2 1071.8,1407.2 1074.2,1407.2 1076.5,1407.2 1078.8,1407.2 1081,1407.2 1083.1,1407.2 1085.2,1407.2 1087.2,1407.2 1089.2,1407.2 1091.1,1407.2 1092.9,1407.2 1094.7,1407.2 1096.5,1407.2 1098.2,1407.2 1099.9,1407.2 1101.5,1407.2 1103.2,1407.2 1104.8,1407.2 1106.5,1407.2 1108.1,1407.2 1109.8,1407.2 1111.5,1407.2 1113.2,1407.2 1114.9,1407.2 1116.7,1407.1 1118.5,1407.1 1120.3,1407.1 1122.3,1407.1 1124.3,1407.1 1126.3,1407.1 1128.5,1407 1130.7,1407 1133,1407 1135.4,1407 1138,1406.9 1140.6,1406.9 1143.3,1406.8 1146.2,1406.8 1149.1,1406.8 1152.1,1406.7 1155.2,1406.7 1158.4,1406.6 1161.7,1406.6 1165.1,1406.5 1168.5,1406.4 1172.1,1406.4 1175.7,1406.3 1179.4,1406.3 1183.1,1406.2 1186.9,1406.1 1190.8,1406 1194.8,1406 1198.8,1405.9 1202.9,1405.8 1207.1,1405.7 1211.3,1405.6 1215.6,1405.5 1219.9,1405.4 1224.2,1405.3 1228.7,1405.2 1233.1,1405.1 1237.6,1405 1242.1,1404.9 1246.6,1404.8 1251.2,1404.7 1255.7,1404.6 1260.2,1404.4 1264.8,1404.3 1269.3,1404.2 1273.8,1404.1 1278.3,1404 1282.7,1403.9 1287.1,1403.8 1291.5,1403.6 1295.8,1403.5 1300.1,1403.4 1304.3,1403.3 1308.4,1403.2 1312.5,1403.1 1316.4,1403 1320.3,1402.9 1324.1,1402.8 1327.8,1402.7 1331.4,1402.6 1334.9,1402.5 1338.3,1402.4 1341.6,1402.3 1344.8,1402.2 1347.9,1402.2 1351,1402.1 1353.9,1402 1356.8,1401.9 1359.6,1401.9 1362.3,1401.8 1364.9,1401.7 1367.5,1401.6 1370,1401.6 1372.4,1401.5 1374.7,1401.4 1377,1401.4 1379.2,1401.3 1381.3,1401.2 1383.4,1401.1 1385.4,1401.1 1387.4,1401 1389.3,1400.9 1391.1,1400.9 1392.9,1400.8 1394.7,1400.7 1396.4,1400.6 1398.1,1400.6 1399.7,1400.5 1401.4,1400.4 1403,1400.3 1404.7,1400.2 1406.3,1400.1 1408,1400 1409.7,1399.9 1411.4,1399.8 1413.1,1399.6 1414.9,1399.5 1416.7,1399.4 1418.5,1399.2 1420.5,1399.1 1422.5,1398.9 1424.5,1398.7 1426.7,1398.5 1428.9,1398.3 1431.2,1398.1 1433.6,1397.9 1436.2,1397.6 1438.8,1397.4 1441.5,1397.1 1444.4,1396.9 1447.3,1396.6 1450.3,1396.2 1453.4,1395.9 1456.6,1395.6 1459.9,1395.2 1463.3,1394.8 1466.7,1394.4 1470.3,1394 1473.9,1393.6 1477.6,1393.1 1481.3,1392.6 1485.1,1392.1 1489,1391.6 1493,1391.1 1497,1390.5 1501.1,1389.9 1505.3,1389.3 1509.5,1388.6 1513.8,1388 1518.1,1387.3 1522.4,1386.5 1526.9,1385.8 1531.3,1385 1535.8,1384.2 1540.3,1383.4 1544.8,1382.5 1549.4,1381.7 1553.9,1380.8 1558.4,1379.9 1563,1378.9 1567.5,1378 1572,1377 1576.5,1376.1 1580.9,1375.1 1585.3,1374.1 1589.7,1373.1 1594,1372 1598.3,1371 1602.5,1370 1606.6,1368.9 1610.7,1367.9 1614.6,1366.8 1618.5,1365.7 1622.3,1364.7 1626,1363.6 1629.6,1362.5 1633.1,1361.4 1636.5,1360.3 1639.8,1359.3 1643,1358.2 1646.1,1357.1 1649.2,1356 1652.1,1355 1655,1353.9 1657.8,1352.8 1660.5,1351.8 1663.1,1350.7 1665.7,1349.7 1668.2,1348.6 1670.6,1347.6 1672.9,1346.6 1675.2,1345.6 1677.4,1344.5 1679.5,1343.5 1681.6,1342.6 1683.6,1341.6 1685.6,1340.6 1687.5,1339.7 1689.3,1338.7 1691.1,1337.8 1692.9,1336.9 1694.6,1335.9 1696.3,1335 1697.9,1334 1699.6,1333 1701.2,1332 1702.9,1331 1704.5,1329.9 1706.2,1328.8 1707.9,1327.6 1709.6,1326.3 1711.3,1325 1713.1,1323.7 1714.9,1322.2 1716.7,1320.7 1718.7,1319.1 1720.7,1317.4 1722.7,1315.6 1724.9,1313.7 1727.1,1311.7 1729.4,1309.5 1731.8,1307.3 1734.4,1304.9 1737,1302.4 1739.7,1299.7 1742.6,1296.9 1745.5,1293.9 1748.5,1290.7 1751.6,1287.4 1754.8,1283.8 1758.1,1280.1 1761.5,1276.1 1764.9,1271.9 1768.5,1267.5 1772.1,1262.9 1775.8,1257.9 1779.5,1252.8 1783.3,1247.3 1787.2,1241.6 1791.2,1235.6 1795.2,1229.3 1799.3,1222.6 1803.5,1215.7 1807.7,1208.4 1812,1200.8 1816.3,1192.8 1820.6,1184.5 1825.1,1175.8 1829.5,1166.8 1834,1157.5 1838.5,1147.9 1843,1137.9 1847.6,1127.7 1852.1,1117.2 1856.6,1106.4 1861.2,1095.4 1865.7,1084.1 1870.2,1072.6 1874.7,1060.9 1879.1,1049 1883.5,1036.9 1887.9,1024.6 1892.2,1012.1 1896.5,999.5 1900.7,986.7 1904.8,973.8 1908.9,960.7 1912.8,947.6 1916.7,934.3 1920.5,921 1924.2,907.5 1927.8,894 1931.3,880.5 1934.7,866.9 1938,853.2 1941.2,839.5 1944.3,825.9 1947.4,812.2 1950.3,798.5 1953.2,784.8 1956,771.1 1958.7,757.5 1961.3,744 1963.9,730.5 1966.4,717 1968.8,703.7 1971.1,690.4 1973.4,677.2 1975.6,664.2 1977.7,651.2 1979.8,638.4 1981.8,625.7 1983.8,613.2 1985.7,600.9 1987.5,588.7 1989.3,576.7 1991,564.8 1992.7,553.1 1994.4,541.6 1996,530.1 1997.5,518.8 1999.1,507.7 2000.5,496.6 2002,485.7 2003.4,474.8 2004.8,464.1 2006.1,453.4 2007.5,442.8 2008.8,432.3 2010.1,421.9 2011.3,411.5 2012.6,401.2 2013.8,390.9 2015.1,380.6 2016.3,370.4 2017.5,360.2 2018.7,350 2019.9,339.8" fill="none" stroke="#000" stroke-width="4" stroke-linejoin="round"/>
<rect x="213.5" y="1390.9" width="29.8" height="29.8" fill="#000"/>
<rect x="303.3" y="1390.9" width="29.8" height="29.8" fill="#000"/>
<rect x="421.9" y="1390.9" width="29.8" height="29.8" fill="#000"/>
<rect x="482.8" y="1390.9" width="29.8" height="29.8" fill="#000"/>
<rect x="511.7" y="1390.9" width="29.8" height="29.8" fill="#000"/>
<rect x="601.5" y="1390.9" width="29.8" height="29.8" fill="#000"/>
<rect x="720.1" y="1390.9" width="29.8" height="29.8" fill="#000"/>
<rect x="781" y="1390.9" width="29.8" height="29.8" fill="#000"/>
<rect x="809.9" y="1390.9" width="29.8" height="29.8" fill="#000"/>
<rect x="899.7" y="1390.9" width="29.8" height="29.8" fill="#000"/>
<rect x="1018.3" y="1390.9" width="29.8" height="29.8" fill="#000"/>
<rect x="1079.2" y="1390.9" width="29.8" height="29.8" fill="#000"/>
<rect x="1108.1" y="1390.9" width="29.8" height="29.8" fill="#000"/>
<rect x="1197.9" y="1389.4" width="29.8" height="29.8" fill="#000"/>
<rect x="1316.5" y="1386.2" width="29.8" height="29.8" fill="#000"/>
<rect x="1377.4" y="1384.7" width="29.8" height="29.8" fill="#000"/>
<rect x="1406.3" y="1382.8" width="29.8" height="29.8" fill="#000"/>
<rect x="1496.1" y="1373.6" width="29.8" height="29.8" fill="#000"/>
<rect x="1614.7" y="1348.6" width="29.8" height="29.8" fill="#000"/>
<rect x="1675.6" y="1322.1" width="29.8" height="29.8" fill="#000"/>
<rect x="1704.5" y="1303.2" width="29.8" height="29.8" fill="#000"/>
<rect x="1794.3" y="1210.9" width="29.8" height="29.8" fill="#000"/>
<rect x="1912.9" y="912.3" width="29.8" height="29.8" fill="#000"/>
<rect x="1973.8" y="567.9" width="29.8" height="29.8" fill="#000"/>
<rect x="2002.7" y="323.5" width="29.8" height="29.8" fill="#000"/>
</g>
<g stroke="#000" stroke-width="3.3" fill="#000">
<line x1="730.2" y1="1017.6" x2="590" y2="1017.6"/>
<polygon points="556.5,1017.6 592.7,1008.6 592.7,1026.6" stroke="none"/>
<line x1="728.7" y1="1020.5" x2="728.7" y2="1165"/>
<polygon points="728.7,1199.8 719.6,1162.9 737.8,1162.9" stroke="none"/>
<line x1="1283.9" y1="1403" x2="1283.9" y2="1304"/>
<polygon points="1283.9,1271.8 1273.7,1306.3 1294.1,1306.3" stroke="none"/>
<line x1="1282.3" y1="1401.6" x2="1745" y2="1401.6"/>
<polygon points="1778.7,1401.6 1742.2,1392.3 1742.2,1410.9" stroke="none"/>
</g>
<rect x="1559.3" y="267.2" width="316.9" height="678.9" fill="#fff" stroke="#000" stroke-width="3.3"/>
<g>
<line x1="1578.5" y1="324.2" x2="1619" y2="324.2" stroke="#000000" stroke-width="4.8"/>
<line x1="1656.5" y1="324.2" x2="1696.5" y2="324.2" stroke="#000000" stroke-width="4.8"/>
<polygon points="1637.9,309.3 1651.1,318.9 1646,334.4 1629.8,334.4 1624.7,318.9" fill="#000000"/>
<text x="1707.5" y="340.8" font-size="50"><tspan font-style="italic">C</tspan><tspan x="1745">=</tspan><tspan x="1773.5">10</tspan><tspan x="1831.5" dy="-28" font-size="31.5">-4</tspan></text>
</g>
<g>
<line x1="1578.5" y1="397.9" x2="1619" y2="397.9" stroke="#ff0000" stroke-width="4.8"/>
<line x1="1656.5" y1="397.9" x2="1696.5" y2="397.9" stroke="#ff0000" stroke-width="4.8"/>
<circle cx="1637.9" cy="396.9" r="11.3" fill="#ff0000"/>
<text x="1707.6" y="414.5" font-size="50">2x<tspan x="1763.3">10</tspan><tspan x="1817.5" dy="-28" font-size="31.5">-4</tspan></text>
</g>
<g>
<line x1="1578.5" y1="471.4" x2="1619" y2="471.4" stroke="#00ff00" stroke-width="4.8"/>
<line x1="1656.5" y1="471.4" x2="1696.5" y2="471.4" stroke="#00ff00" stroke-width="4.8"/>
<polygon points="1637.9,454.6 1652.4,479.8 1623.4,479.8" fill="#00ff00"/>
<text x="1707.6" y="488" font-size="50">5x<tspan x="1763.3">10</tspan><tspan x="1817.5" dy="-28" font-size="31.5">-4</tspan></text>
</g>
<g>
<line x1="1578.5" y1="545" x2="1619" y2="545" stroke="#0000ff" stroke-width="4.8"/>
<line x1="1656.5" y1="545" x2="1696.5" y2="545" stroke="#0000ff" stroke-width="4.8"/>
<polygon points="1637.9,561.8 1652.4,536.6 1623.4,536.6" fill="#0000ff"/>
<text x="1707.6" y="561.6" font-size="50">8x<tspan x="1763.3">10</tspan><tspan x="1817.5" dy="-28" font-size="31.5">-4</tspan></text>
</g>
<g>
<line x1="1578.5" y1="618.9" x2="1619" y2="618.9" stroke="#00ffff" stroke-width="4.8"/>
<line x1="1656.5" y1="618.9" x2="1696.5" y2="618.9" stroke="#00ffff" stroke-width="4.8"/>
<polygon points="1637.9,603.2 1652.7,618.9 1637.9,634.6 1623.1,618.9" fill="#00ffff"/>
<text x="1706.5" y="635.5" font-size="50">10<tspan x="1763.3" dy="-28" font-size="31.5">-3</tspan></text>
</g>
<g>
<line x1="1578.5" y1="693.7" x2="1619" y2="693.7" stroke="#ff00ff" stroke-width="4.8"/>
<line x1="1656.5" y1="693.7" x2="1696.5" y2="693.7" stroke="#ff00ff" stroke-width="4.8"/>
<polygon points="1621.3,693.1 1646.2,678.6 1646.2,707.6" fill="#ff00ff"/>
<text x="1707.6" y="710.3" font-size="50">2x<tspan x="1763.3">10</tspan><tspan x="1817.5" dy="-28" font-size="31.5">-3</tspan></text>
</g>
<g>
<line x1="1578.5" y1="767.3" x2="1619" y2="767.3" stroke="#ffff00" stroke-width="4.8"/>
<line x1="1656.5" y1="767.3" x2="1696.5" y2="767.3" stroke="#ffff00" stroke-width="4.8"/>
<polygon points="1654.7,767.3 1629.5,752.6 1629.5,782" fill="#ffff00"/>
<text x="1707.6" y="783.9" font-size="50">5x<tspan x="1763.3">10</tspan><tspan x="1817.5" dy="-28" font-size="31.5">-3</tspan></text>
</g>
<g>
<line x1="1578.5" y1="841.3" x2="1619" y2="841.3" stroke="#808000" stroke-width="4.8"/>
<line x1="1656.5" y1="841.3" x2="1696.5" y2="841.3" stroke="#808000" stroke-width="4.8"/>
<polygon points="1637.9,828 1649.4,834.7 1649.4,847.9 1637.9,854.6 1626.4,847.9 1626.4,834.7" fill="#808000"/>
<text x="1707.6" y="857.9" font-size="50">8x<tspan x="1763.3">10</tspan><tspan x="1817.5" dy="-28" font-size="31.5">-3</tspan></text>
</g>
<g>
<line x1="1578.5" y1="915.3" x2="1619" y2="915.3" stroke="#000080" stroke-width="4.8"/>
<line x1="1656.5" y1="915.3" x2="1696.5" y2="915.3" stroke="#000080" stroke-width="4.8"/>
<polygon points="1637.9,901.3 1641.2,911.3 1651.7,911.3 1643.2,917.5 1646.4,927.5 1637.9,921.3 1629.4,927.5 1632.6,917.5 1624.1,911.3 1634.6,911.3" fill="#000080"/>
<text x="1706.5" y="931.9" font-size="50">10<tspan x="1763.3" dy="-28" font-size="31.5">-2</tspan></text>
</g>
<g font-size="54">
<text x="229.2" y="164.6" text-anchor="middle">-8</text>
<text x="527.4" y="164.6" text-anchor="middle">-7</text>
<text x="825.6" y="164.6" text-anchor="middle">-6</text>
<text x="1123.8" y="164.6" text-anchor="middle">-5</text>
<text x="1422" y="164.6" text-anchor="middle">-4</text>
<text x="1720.2" y="164.6" text-anchor="middle">-3</text>
<text x="2018.4" y="164.6" text-anchor="middle">-2</text>
<text x="373" y="1603" text-anchor="middle">295</text>
<text x="730.9" y="1603" text-anchor="middle">300</text>
<text x="1088.7" y="1603" text-anchor="middle">305</text>
<text x="1446.6" y="1603" text-anchor="middle">310</text>
<text x="1804.4" y="1603" text-anchor="middle">315</text>
<text x="201.5" y="1463.6" text-anchor="end">0.6</text>
<text x="201.5" y="1298.1" text-anchor="end">0.7</text>
<text x="201.5" y="1132.6" text-anchor="end">0.8</text>
<text x="201.5" y="967.2" text-anchor="end">0.9</text>
<text x="201.5" y="801.7" text-anchor="end">1.0</text>
<text x="201.5" y="636.3" text-anchor="end">1.1</text>
<text x="201.5" y="470.8" text-anchor="end">1.2</text>
<text x="201.5" y="305.3" text-anchor="end">1.3</text>
<text x="2047.7" y="1444.5">1.00</text>
<text x="2047.7" y="1240.8">1.05</text>
<text x="2047.7" y="1037.2">1.10</text>
<text x="2047.7" y="833.5">1.15</text>
<text x="2047.7" y="629.9">1.20</text>
<text x="2047.7" y="426.2">1.25</text>
<text x="2047.7" y="220.2">1.30</text>
</g>
<g font-size="65">
<text x="1056.6" y="102.3" letter-spacing="0.6">log<tspan x="1166.3" font-style="italic">C</tspan></text>
<text x="1051.5" y="1709.8">T <tspan dx="1.8">(</tspan><tspan dx="0.8">K</tspan><tspan dx="1.6">)</tspan></text>
<text x="404" y="1376.4" font-size="65" letter-spacing="0.45">T=293K</text>
<text transform="translate(80.3 1051) rotate(-90) scale(1.17 1)" style='font-family:"Liberation Serif", serif' font-style="italic" font-size="61">η</text>
<text transform="translate(80.3 1005.4) rotate(-90)" letter-spacing="1.05">(mPa.s)</text>
<text transform="translate(2257.2 1062.3) rotate(-90) scale(1.17 1)" style='font-family:"Liberation Serif", serif' font-style="italic" font-size="61">η</text>
<text transform="translate(2257.2 1015.7) rotate(-90)" letter-spacing="1.05">(mPa.s)</text>
</g>
<g id="onefeet" fill="#ffffff"><rect x="1776.3" y="336.2" width="9.5" height="5.3"/><rect x="1790.7" y="336.2" width="9.3" height="5.3"/><rect x="1766.1" y="409.9" width="9.5" height="5.3"/><rect x="1780.5" y="409.9" width="9.3" height="5.3"/><rect x="1766.1" y="483.4" width="9.5" height="5.3"/><rect x="1780.5" y="483.4" width="9.3" height="5.3"/><rect x="1766.1" y="557.0" width="9.5" height="5.3"/><rect x="1780.5" y="557.0" width="9.3" height="5.3"/><rect x="1709.3" y="630.9" width="9.5" height="5.3"/><rect x="1723.7" y="630.9" width="9.3" height="5.3"/><rect x="1766.1" y="705.7" width="9.5" height="5.3"/><rect x="1780.5" y="705.7" width="9.3" height="5.3"/><rect x="1766.1" y="779.3" width="9.5" height="5.3"/><rect x="1780.5" y="779.3" width="9.3" height="5.3"/><rect x="1766.1" y="853.3" width="9.5" height="5.3"/><rect x="1780.5" y="853.3" width="9.3" height="5.3"/><rect x="1709.3" y="927.3" width="9.5" height="5.3"/><rect x="1723.7" y="927.3" width="9.3" height="5.3"/><rect x="1434.7" y="1598.1" width="10.2" height="5.6"/><rect x="1450.2" y="1598.1" width="9.9" height="5.6"/><rect x="1792.5" y="1598.1" width="10.2" height="5.6"/><rect x="1808.0" y="1598.1" width="9.9" height="5.6"/><rect x="129.5" y="796.8" width="10.2" height="5.6"/><rect x="145.0" y="796.8" width="9.9" height="5.6"/><rect x="129.5" y="631.4" width="10.2" height="5.6"/><rect x="145.0" y="631.4" width="9.9" height="5.6"/><rect x="174.6" y="631.4" width="10.2" height="5.6"/><rect x="190.1" y="631.4" width="9.9" height="5.6"/><rect x="129.5" y="465.9" width="10.2" height="5.6"/><rect x="145.0" y="465.9" width="9.9" height="5.6"/><rect x="129.5" y="300.4" width="10.2" height="5.6"/><rect x="145.0" y="300.4" width="9.9" height="5.6"/><rect x="2050.8" y="1439.6" width="10.2" height="5.6"/><rect x="2066.3" y="1439.6" width="9.9" height="5.6"/><rect x="2050.8" y="1235.9" width="10.2" height="5.6"/><rect x="2066.3" y="1235.9" width="9.9" height="5.6"/><rect x="2050.8" y="1032.3" width="10.2" height="5.6"/><rect x="2066.3" y="1032.3" width="9.9" height="5.6"/><rect x="2095.8" y="1032.3" width="10.2" height="5.6"/><rect x="2111.3" y="1032.3" width="9.9" height="5.6"/><rect x="2050.8" y="828.6" width="10.2" height="5.6"/><rect x="2066.3" y="828.6" width="9.9" height="5.6"/><rect x="2095.8" y="828.6" width="10.2" height="5.6"/><rect x="2111.3" y="828.6" width="9.9" height="5.6"/><rect x="2050.8" y="625.0" width="10.2" height="5.6"/><rect x="2066.3" y="625.0" width="9.9" height="5.6"/><rect x="2050.8" y="421.3" width="10.2" height="5.6"/><rect x="2066.3" y="421.3" width="9.9" height="5.6"/><rect x="2050.8" y="215.3" width="10.2" height="5.6"/><rect x="2066.3" y="215.3" width="9.9" height="5.6"/></g>
</svg></body></html>
